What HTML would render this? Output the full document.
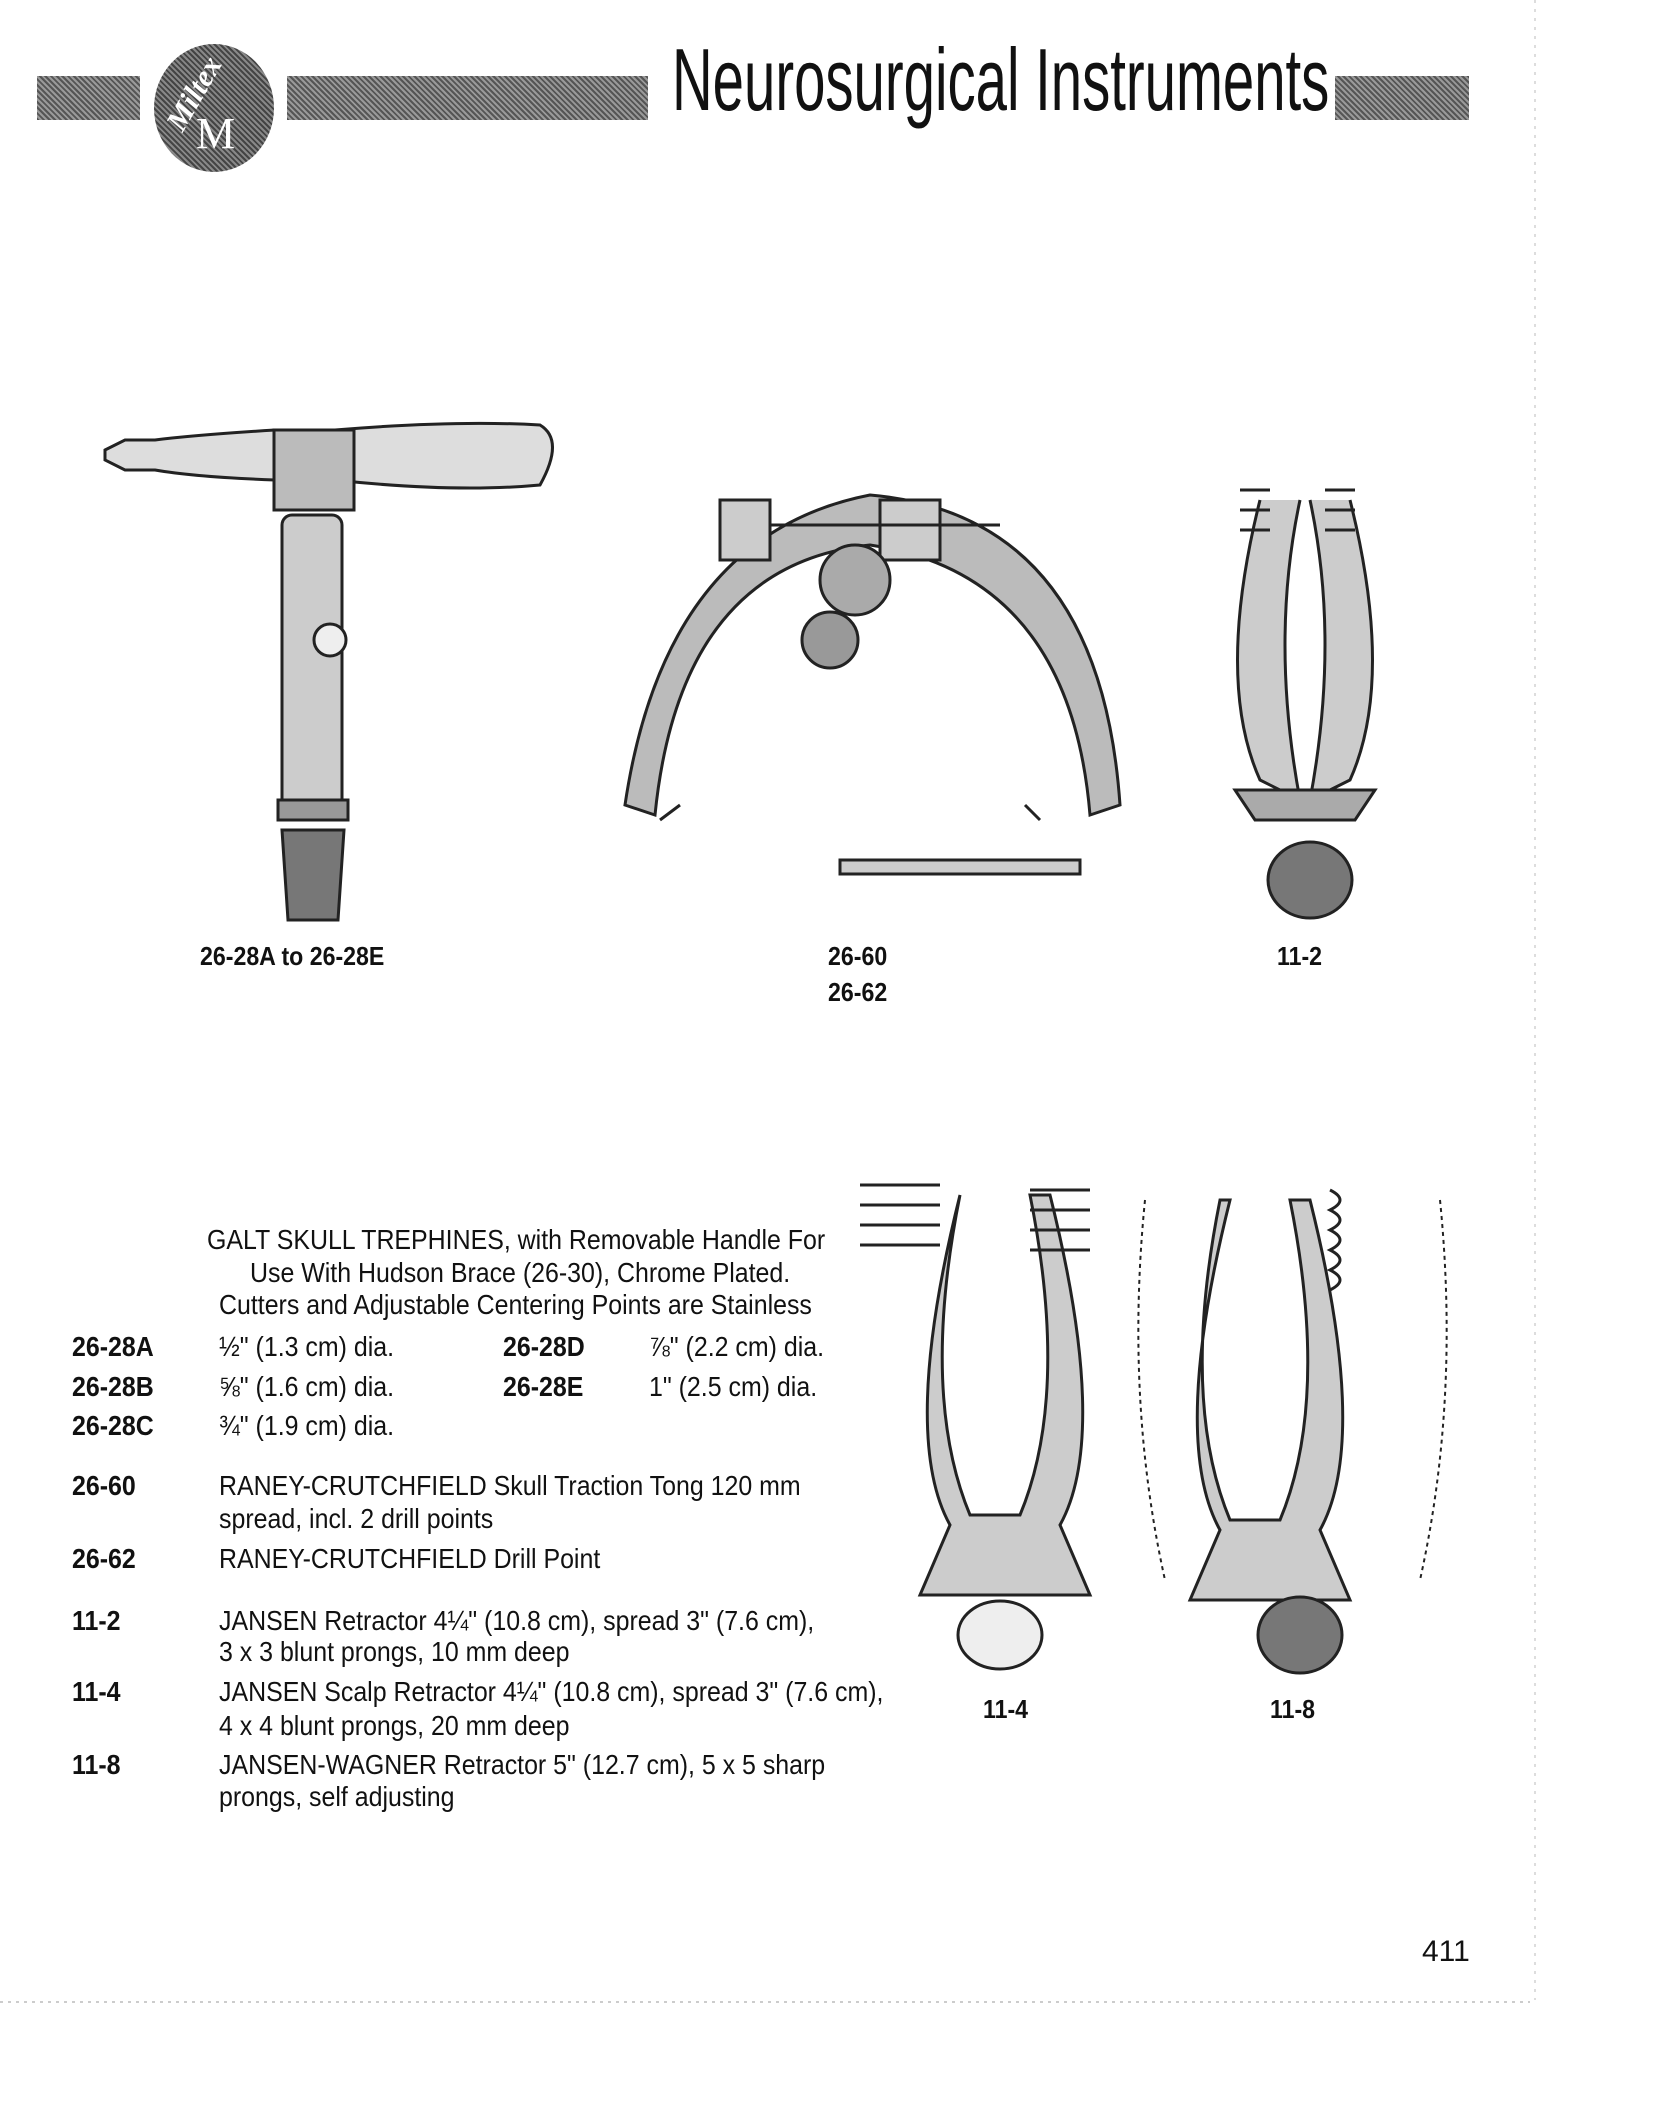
<!DOCTYPE html>
<html><head><meta charset="utf-8"><style>
body{margin:0;background:#fff}
#p{position:relative;width:1655px;height:2105px;overflow:hidden;background:#fff;font-family:"Liberation Sans Narrow","Liberation Sans",sans-serif;color:#111}
.t{position:absolute;font-size:28px;white-space:nowrap;line-height:1;transform:translateY(-50%) scaleX(0.89);transform-origin:left center}
.b{font-weight:bold}
.bar{position:absolute;background:#6a6a6a;background-image:repeating-linear-gradient(45deg,#555 0 2px,#999 2px 4px)}
</style></head><body><div id="p">
<div class="bar" style="left:37px;top:76px;width:103px;height:44px"></div>
<div class="bar" style="left:287px;top:76px;width:361px;height:44px"></div>
<div class="bar" style="left:1335px;top:76px;width:134px;height:44px"></div>
<div style="position:absolute;left:154px;top:44px;width:120px;height:128px;border-radius:50%;background:#555;background-image:repeating-linear-gradient(45deg,#444 0 2px,#888 2px 4px)"></div>
<div style="position:absolute;left:160px;color:#fff;font:italic bold 30px 'Liberation Serif',serif;transform:rotate(-60deg);transform-origin:left top;top:120px">Miltex</div>
<div style="position:absolute;left:196px;top:108px;color:#fff;font:44px 'Liberation Serif',serif">M</div>
<div style="position:absolute;left:672px;top:36px;font-size:88px;line-height:1;font-family:'Liberation Sans Narrow','Liberation Sans',sans-serif;white-space:nowrap;transform:scaleX(0.64);transform-origin:left top">Neurosurgical Instruments</div>

<svg style="position:absolute;left:0;top:0" width="1655" height="2105" fill="none" stroke="#222" stroke-width="3">
<path d="M105 450 l20 -10 h30 q40 -5 120 -10 h60 q120 -10 205 -5 q25 15 0 60 q-85 8 -205 -5 h-60 q-80 -3 -120 -10 h-30 l-20 -10 z" fill="#ddd"/>
<rect x="274" y="430" width="80" height="80" fill="#bbb"/>
<rect x="282" y="515" width="60" height="300" rx="10" fill="#ccc"/>
<circle cx="330" cy="640" r="16" fill="#eee"/>
<rect x="278" y="800" width="70" height="20" fill="#999"/>
<path d="M282 830 h62 l-6 90 h-50 z" fill="#777"/>
<path d="M625 805 q40 -270 245 -310 q230 20 250 310 l-30 10 q-20 -240 -220 -270 q-190 20 -215 270 z" fill="#bbb"/>
<rect x="720" y="500" width="50" height="60" fill="#ccc"/><rect x="880" y="500" width="60" height="60" fill="#ccc"/>
<line x1="770" y1="525" x2="1000" y2="525"/>
<circle cx="855" cy="580" r="35" fill="#aaa"/><circle cx="830" cy="640" r="28" fill="#999"/>
<path d="M660 820 l20 -15 M1040 820 l-15 -15"/>
<rect x="840" y="860" width="240" height="14" fill="#ccc"/>
<path d="M1260 500 q-45 180 0 280 l40 20 q-30 -160 0 -300 M1350 500 q45 180 0 280 l-40 20 q30 -160 0 -300" fill="#ccc"/>
<path d="M1240 490 h30 M1240 510 h30 M1240 530 h30 M1325 490 h30 M1325 510 h30 M1325 530 h30"/>
<path d="M1235 790 h140 l-20 30 h-100 z" fill="#aaa"/>
<ellipse cx="1310" cy="880" rx="42" ry="38" fill="#777"/>
<path d="M960 1195 q-60 240 -10 330 l-30 70 h170 l-30 -70 q50 -90 -10 -330 l-20 0 q40 200 -10 320 h-50 q-50 -120 -10 -320 z" fill="#ccc"/>
<path d="M860 1185 h80 M860 1205 h80 M860 1225 h80 M860 1245 h80 M1030 1190 h60 M1030 1210 h60 M1030 1230 h60 M1030 1250 h60"/>
<ellipse cx="1000" cy="1635" rx="42" ry="34" fill="#eee"/>
<path d="M1230 1200 q-60 240 -10 330 l-30 70 h160 l-30 -70 q50 -90 -10 -330 l-20 0 q40 200 -10 320 h-50 q-50 -120 -10 -320 z" fill="#ccc"/>
<path d="M1145 1200 q-20 200 20 380 M1440 1200 q20 200 -20 380" stroke-dasharray="4 4" stroke-width="2"/>
<path d="M1330 1190 q20 10 0 20 q20 10 0 20 q20 10 0 20 q20 10 0 20 q20 10 0 20"/>
<ellipse cx="1300" cy="1635" rx="42" ry="38" fill="#777"/>
<line x1="0" y1="2002" x2="1530" y2="2002" stroke="#999" stroke-width="1" stroke-dasharray="3 5"/>
<line x1="1535" y1="0" x2="1535" y2="2000" stroke="#bbb" stroke-width="1" stroke-dasharray="3 6"/>
</svg>

<div class="t b" style="left:200px;top:956px;font-size:26px">26-28A to 26-28E</div>
<div class="t b" style="left:828px;top:956px;font-size:26px">26-60</div>
<div class="t b" style="left:828px;top:992px;font-size:26px">26-62</div>
<div class="t b" style="left:1277px;top:956px;font-size:26px">11-2</div>
<div class="t b" style="left:983px;top:1709px;font-size:26px">11-4</div>
<div class="t b" style="left:1270px;top:1709px;font-size:26px">11-8</div>

<div class="t" style="left:207px;top:1240px">GALT SKULL TREPHINES, with Removable Handle For</div>
<div class="t" style="left:250px;top:1273px">Use With Hudson Brace (26-30), Chrome Plated.</div>
<div class="t" style="left:219px;top:1305px">Cutters and Adjustable Centering Points are Stainless</div>
<div class="t b" style="left:72px;top:1347px">26-28A</div><div class="t" style="left:219px;top:1347px">½" (1.3 cm) dia.</div>
<div class="t b" style="left:503px;top:1347px">26-28D</div><div class="t" style="left:649px;top:1347px">⅞" (2.2 cm) dia.</div>
<div class="t b" style="left:72px;top:1387px">26-28B</div><div class="t" style="left:219px;top:1387px">⅝" (1.6 cm) dia.</div>
<div class="t b" style="left:503px;top:1387px">26-28E</div><div class="t" style="left:649px;top:1387px">1" (2.5 cm) dia.</div>
<div class="t b" style="left:72px;top:1426px">26-28C</div><div class="t" style="left:219px;top:1426px">¾" (1.9 cm) dia.</div>
<div class="t b" style="left:72px;top:1486px">26-60</div><div class="t" style="left:219px;top:1486px">RANEY-CRUTCHFIELD Skull Traction Tong 120 mm</div>
<div class="t" style="left:219px;top:1519px">spread, incl. 2 drill points</div>
<div class="t b" style="left:72px;top:1559px">26-62</div><div class="t" style="left:219px;top:1559px">RANEY-CRUTCHFIELD Drill Point</div>
<div class="t b" style="left:72px;top:1621px">11-2</div><div class="t" style="left:219px;top:1621px">JANSEN Retractor 4¼" (10.8 cm), spread 3" (7.6 cm),</div>
<div class="t" style="left:219px;top:1652px">3 x 3 blunt prongs, 10 mm deep</div>
<div class="t b" style="left:72px;top:1692px">11-4</div><div class="t" style="left:219px;top:1692px">JANSEN Scalp Retractor 4¼" (10.8 cm), spread 3" (7.6 cm),</div>
<div class="t" style="left:219px;top:1726px">4 x 4 blunt prongs, 20 mm deep</div>
<div class="t b" style="left:72px;top:1765px">11-8</div><div class="t" style="left:219px;top:1765px">JANSEN-WAGNER Retractor 5" (12.7 cm), 5 x 5 sharp</div>
<div class="t" style="left:219px;top:1797px">prongs, self adjusting</div>
<div class="t" style="left:1422px;top:1952px;font-size:30px;font-family:'Liberation Sans',sans-serif;transform:translateY(-50%)">411</div>
</div></body></html>
